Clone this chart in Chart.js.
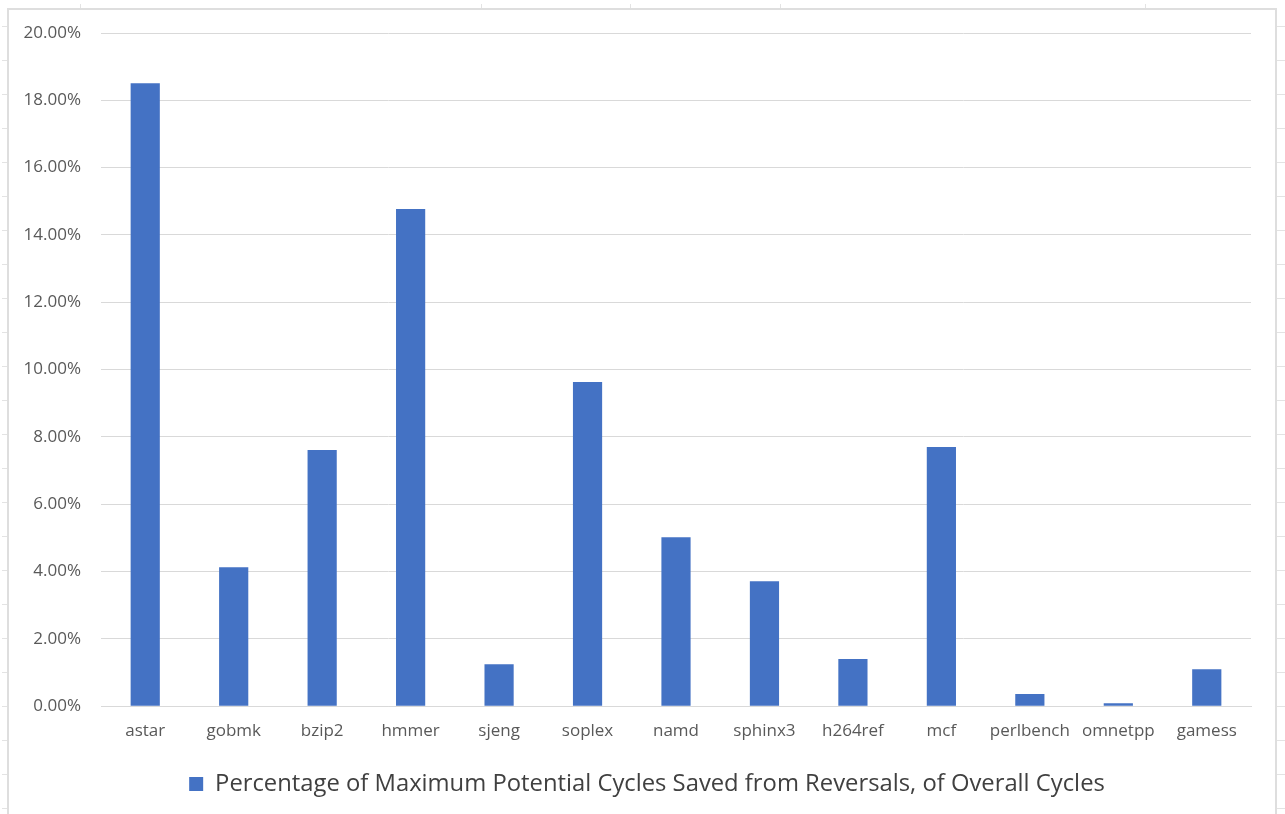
<!DOCTYPE html>
<html>
<head>
<meta charset="utf-8">
<script src="https://cdn.jsdelivr.net/npm/chart.js@4.4.1/dist/chart.umd.min.js"></script>
<style>
  html, body { margin: 0; padding: 0; background: #ffffff; }
  body { width: 1285px; height: 814px; position: relative; overflow: hidden; }
  .sheet { position: absolute; background: #e3e3e3; }
  #frame { position: absolute; left: 7px; top: 8px; width: 1270px; height: 810px; border: 2px solid #dedede; background: #fff; box-sizing: border-box; }
  #c { position: absolute; left: 2px; top: 1px; }
</style>
</head>
<body>
<div id="frame"><canvas id="c" width="1264" height="805"></canvas></div>
<script>
// ---- data ----
const categories = ["astar", "gobmk", "bzip2", "hmmer", "sjeng", "soplex", "namd", "sphinx3", "h264ref", "mcf", "perlbench", "omnetpp", "gamess"];
const seriesName = "Percentage of Maximum Potential Cycles Saved from Reversals, of Overall Cycles";
const seriesValues = [18.51, 4.13, 7.61, 14.77, 1.25, 9.63, 5.02, 3.71, 1.40, 7.70, 0.36, 0.09, 1.10];
const yTicks = [0, 2, 4, 6, 8, 10, 12, 14, 16, 18, 20];

// ---- spreadsheet background decoration ----
(function () {
  const cols = [80, 481, 630, 780, 1145];
  cols.forEach(x => {
    const d = document.createElement('div');
    d.className = 'sheet';
    d.style.left = x + 'px'; d.style.top = '4px'; d.style.width = '1px'; d.style.height = '5px';
    document.body.insertBefore(d, document.body.firstChild);
  });
  for (let y = 26; y < 814; y += 34) {
    const l = document.createElement('div');
    l.className = 'sheet';
    l.style.left = '2px'; l.style.top = y + 'px'; l.style.width = '6px'; l.style.height = '1px';
    document.body.insertBefore(l, document.body.firstChild);
    const r = document.createElement('div');
    r.className = 'sheet';
    r.style.left = '1277px'; r.style.top = y + 'px'; r.style.width = '8px'; r.style.height = '1px';
    document.body.insertBefore(r, document.body.firstChild);
  }
})();

const FONT = "'Open Sans', Lato, sans-serif";
const noPad = s => { s.paddingTop = 0; s.paddingBottom = 0; s.paddingLeft = 0; s.paddingRight = 0; };

new Chart(document.getElementById('c'), {
  type: 'bar',
  data: {
    labels: categories,
    datasets: [{
      label: seriesName,
      data: seriesValues,
      backgroundColor: '#4472C4',
      borderColor: '#4472C4',
      borderWidth: 0,
      categoryPercentage: 1.0,
      barPercentage: 0.33
    }]
  },
  options: {
    responsive: false,
    animation: false,
    devicePixelRatio: 1,
    layout: { padding: { top: 22, right: 0, bottom: 10, left: 8 } },
    scales: {
      x: {
        grid: { display: false, drawTicks: false },
        border: { display: true, color: '#d9d9d9', width: 1 },
        ticks: { color: '#595959', font: { family: FONT, size: 17 }, padding: 15, maxRotation: 0, autoSkip: false },
        afterFit: s => { s.height = 56; noPad(s); }
      },
      y: {
        min: 0, max: 20,
        afterBuildTicks: s => { s.ticks = yTicks.map(v => ({ value: v })); },
        grid: { color: '#d9d9d9', lineWidth: 1, drawTicks: false },
        border: { display: false },
        ticks: {
          color: '#595959', font: { family: FONT, size: 17 }, padding: 20,
          callback: v => v.toFixed(2) + '%'
        },
        afterFit: s => { s.width = 82; noPad(s); }
      },
      yRight: {
        type: 'linear',
        position: 'right',
        display: true,
        grid: { display: false, drawTicks: false },
        border: { display: false },
        ticks: { display: false },
        afterFit: s => { s.width = 24; noPad(s); }
      }
    },
    plugins: {
      tooltip: { enabled: false },
      legend: {
        position: 'bottom',
        labels: {
          color: '#404040',
          font: { family: FONT, size: 23.8 },
          boxWidth: 14, boxHeight: 14,
          padding: 10
        }
      }
    }
  }
});
</script>
</body>
</html>
